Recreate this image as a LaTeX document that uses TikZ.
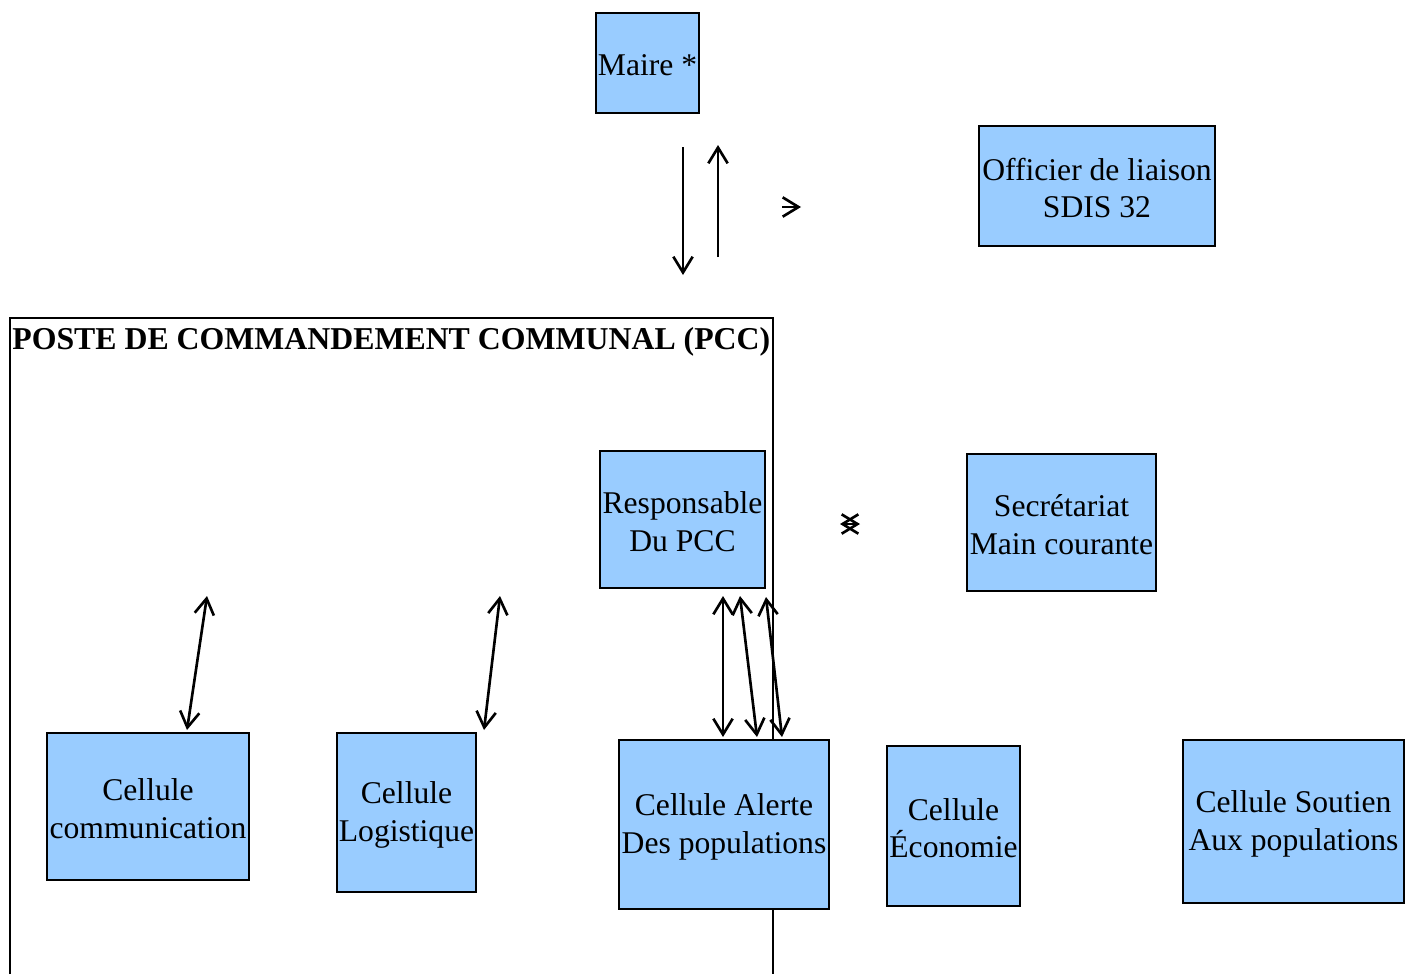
\documentclass[tikz,border=0pt]{standalone}
\usepackage{fontspec}
\setmainfont{Liberation Serif}
\usetikzlibrary{arrows.meta}

\definecolor{cellblue}{HTML}{99CCFF}

\begin{document}
\begin{tikzpicture}[x=0.02cm, y=-0.02cm,
  cell/.style={draw, line width=1.1pt, fill=cellblue},
  celltext/.style={align=center, inner sep=0pt, yshift=-1.2pt, font=\fontsize{18}{21.5}\selectfont},
  link/.style={line width=1.5pt, {Straight Barb[length=9pt,width=11pt]}-{Straight Barb[length=9pt,width=11pt]}},
  oneway/.style={line width=1.5pt, -{Straight Barb[length=9pt,width=11pt]}}]
\useasboundingbox (0,0) rectangle (1405,974);

% cadre du PCC
\draw[line width=1.1pt] (10,974) -- (10,318) -- (773,318) -- (773,974);
\node[anchor=base west, inner sep=0pt, font=\fontsize{18.1}{21.5}\selectfont\bfseries] (pcc) at (12,349) {POSTE DE COMMANDEMENT COMMUNAL (PCC)};

\draw[cell] (596, 13) rectangle (699, 113) node[pos=.5, celltext] (maire) {Maire *};
\draw[cell] (979, 126) rectangle (1215, 246) node[pos=.5, celltext] (officier) {Officier de liaison\\SDIS 32};
\draw[cell] (600, 451) rectangle (765, 588) node[pos=.5, celltext] (resp) {Responsable\\Du PCC};
\draw[cell] (967, 454) rectangle (1156, 591) node[pos=.5, celltext] (secr) {Secrétariat\\Main courante};

\draw[cell] (47, 733) rectangle (249, 880) node[pos=.5, celltext] (comm) {Cellule\\communication};
\draw[cell] (337, 733) rectangle (476, 892) node[pos=.5, celltext] (logi) {Cellule\\Logistique};
\draw[cell] (619, 740) rectangle (829, 909) node[pos=.5, celltext] (alerte) {Cellule Alerte\\Des populations};
\draw[cell] (887, 746) rectangle (1020, 906) node[pos=.5, celltext] (eco) {Cellule\\Économie};
\draw[cell] (1183, 740) rectangle (1404, 903) node[pos=.5, celltext] (soutien) {Cellule Soutien\\Aux populations};

% fleches
\coordinate (m1) at (683, 147);
\coordinate (m2) at (683, 275);
\coordinate (m3) at (718, 257);
\coordinate (m4) at (718, 145);
\draw[oneway] (m1) -- (m2);
\draw[oneway] (m3) -- (m4);

\coordinate (o1) at (782, 207);
\coordinate (o2) at (801, 207);
\draw[oneway] (o1) -- (o2);

\coordinate (s1) at (840, 524);
\coordinate (s2) at (860, 524);
\draw[link] (s1) -- (s2);

\coordinate (c1) at (207, 596);
\coordinate (c2) at (187, 730);
\draw[link] (c1) -- (c2);

\coordinate (l1) at (500, 596);
\coordinate (l2) at (484, 730);
\draw[link] (l1) -- (l2);

\coordinate (a1) at (723, 596);
\coordinate (a2) at (723, 737);
\coordinate (a3) at (740, 596);
\coordinate (a4) at (757, 737);
\coordinate (a5) at (766, 597);
\coordinate (a6) at (782, 737);
\draw[link] (a1) -- (a2);
\draw[link] (a3) -- (a4);
\draw[link] (a5) -- (a6);
\end{tikzpicture}
\end{document}
